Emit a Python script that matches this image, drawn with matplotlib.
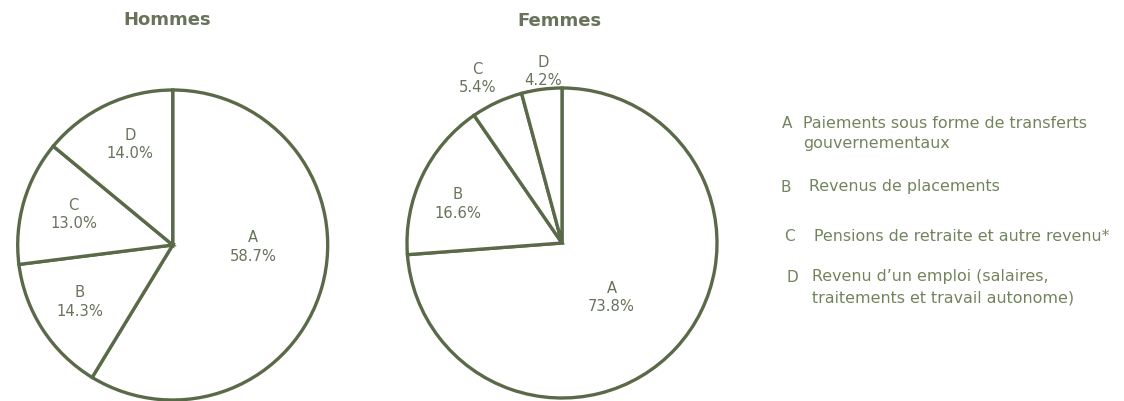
import numpy as np
import matplotlib
matplotlib.use('Agg')
import matplotlib.pyplot as plt

plt.rcParams['font.family'] = ['DejaVu Sans']

# data
categories = ['A', 'B', 'C', 'D']
hommes = [58.7, 14.3, 13.0, 14.0]
femmes = [73.8, 16.6, 5.4, 4.2]

legend_lines = [
    ['Paiements sous forme de transferts', 'gouvernementaux'],
    ['Revenus de placements'],
    ['Pensions de retraite et autre revenu*'],
    ["Revenu d\u2019un emploi (salaires,", 'traitements et travail autonome)'],
]

W, H = 1124, 402
EDGE = '#5a6a48'
TEXT = '#67735a'
LEG = '#72845c'

fig = plt.figure(figsize=(W / 100, H / 100), dpi=100)
fig.patch.set_facecolor('white')


def pie_axes(cx, cy, r):
    return fig.add_axes([(cx - r) / W, 1 - (cy + r) / H, 2 * r / W, 2 * r / H])


def draw_pie(ax, values, title, title_xy, label_r, label_shift):
    wedges, _ = ax.pie(values, startangle=90, counterclock=False, radius=1,
                       colors=['white'] * len(values),
                       wedgeprops=dict(edgecolor=EDGE, linewidth=2.4))
    ax.set_xlim(-1, 1)
    ax.set_ylim(-1, 1)
    ax.set_aspect('equal')
    ax.axis('off')
    for w, cat, v, lr, sh in zip(wedges, categories, values, label_r, label_shift):
        mid = np.deg2rad((w.theta1 + w.theta2) / 2 + sh)
        ax.text(lr * np.cos(mid), lr * np.sin(mid), f'{cat}\n{v:.1f}%',
                ha='center', va='center', fontsize=10.6, color=TEXT,
                linespacing=1.3, clip_on=False)
    fig.text(title_xy[0] / W, 1 - title_xy[1] / H, title, ha='center', va='center',
             fontsize=13, fontweight='bold', color=TEXT)


ax1 = pie_axes(172.7, 246, 155)
draw_pie(ax1, hommes, 'Hommes', (167, 20),
         [0.52, 0.70, 0.67, 0.71], [15, -2, -1.5, -2.3])

ax2 = pie_axes(562, 244, 155)
draw_pie(ax2, femmes, 'Femmes', (559, 21),
         [0.47, 0.72, 1.20, 1.12], [-4.4, 4.5, 2.2, -1.3])

# legend block on the right
letter_x = [782, 781, 784, 786]
text_x = [803, 809, 814, 812]
row_y = [123, 187, 237, 277]
line_gap = 21
for cat, lines, lx, tx, y in zip(categories, legend_lines, letter_x, text_x, row_y):
    fig.text(lx / W, 1 - y / H, cat, ha='left', va='center', fontsize=11,
             color=LEG)
    for i, ln in enumerate(lines):
        fig.text(tx / W, 1 - (y + i * line_gap) / H, ln, ha='left', va='center',
                 fontsize=11.4, color=LEG)

fig.savefig('out.png', dpi=100, facecolor='white')
